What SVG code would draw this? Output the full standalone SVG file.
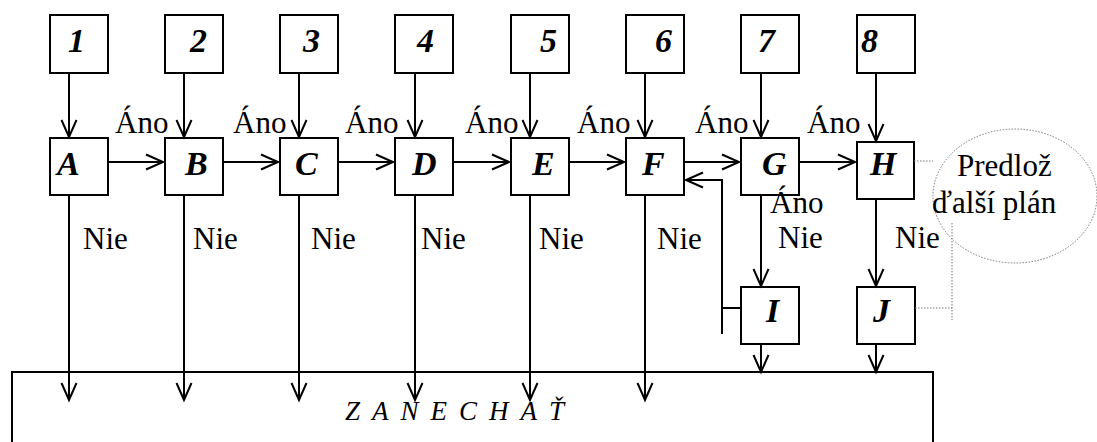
<svg xmlns="http://www.w3.org/2000/svg" width="1097" height="442" viewBox="0 0 1097 442">
<style>
.box{fill:#fff;stroke:#000;stroke-width:2}
.ln{fill:none;stroke:#000;stroke-width:2}
.dot{fill:none;stroke:#777;stroke-width:1;stroke-dasharray:1.5 1.5}
.bi{font-family:"Liberation Serif",serif;font-weight:bold;font-style:italic;font-size:34px;fill:#000}
.t{font-family:"Liberation Serif",serif;font-size:31px;fill:#000}
.z{font-family:"Liberation Serif",serif;font-style:italic;font-size:27px;letter-spacing:12px;fill:#000}
</style>
<defs>
<marker id="ah" markerUnits="userSpaceOnUse" markerWidth="24" markerHeight="24" refX="0" refY="0" viewBox="-20 -12 24 24" orient="auto" overflow="visible">
<path d="M-17,-7.5 L0,0 L-17,7.5" fill="none" stroke="#000" stroke-width="2"/>
</marker>
</defs>
<g id="zanechat">
<rect x="12" y="372" width="921" height="80" class="box"/>
<text x="345" y="420" class="z">ZANECHAŤ</text>
</g>
<g id="n1"><rect x="50" y="15" width="58" height="58" class="box"/><text x="68" y="52" class="bi">1</text></g>
<g id="n2"><rect x="165" y="15" width="58" height="58" class="box"/><text x="190" y="52" class="bi">2</text></g>
<g id="n3"><rect x="280" y="15" width="58" height="58" class="box"/><text x="303" y="52" class="bi">3</text></g>
<g id="n4"><rect x="395" y="15" width="58" height="58" class="box"/><text x="417" y="52" class="bi">4</text></g>
<g id="n5"><rect x="511" y="15" width="58" height="58" class="box"/><text x="540" y="52" class="bi">5</text></g>
<g id="n6"><rect x="626" y="15" width="58" height="58" class="box"/><text x="655" y="52" class="bi">6</text></g>
<g id="n7"><rect x="741" y="15" width="58" height="58" class="box"/><text x="758" y="52" class="bi">7</text></g>
<g id="n8"><rect x="857" y="15" width="58" height="58" class="box"/><text x="861" y="52" class="bi">8</text></g>
<g id="nA"><rect x="50" y="138" width="58" height="57" class="box"/><text x="57" y="175" class="bi">A</text></g>
<g id="nB"><rect x="165" y="138" width="58" height="57" class="box"/><text x="185" y="175" class="bi">B</text></g>
<g id="nC"><rect x="280" y="138" width="58" height="57" class="box"/><text x="295" y="175" class="bi">C</text></g>
<g id="nD"><rect x="395" y="138" width="58" height="57" class="box"/><text x="412" y="175" class="bi">D</text></g>
<g id="nE"><rect x="511" y="138" width="58" height="57" class="box"/><text x="532" y="175" class="bi">E</text></g>
<g id="nF"><rect x="626" y="138" width="58" height="57" class="box"/><text x="642" y="175" class="bi">F</text></g>
<g id="nG"><rect x="741" y="138" width="58" height="57" class="box"/><text x="762" y="175" class="bi">G</text></g>
<g id="nH"><rect x="857" y="142" width="57" height="57" class="box"/><text x="870" y="175" class="bi">H</text></g>
<g id="nI"><rect x="741" y="287" width="58" height="57" class="box"/><text x="766" y="322" class="bi">I</text></g>
<g id="nJ"><rect x="857" y="287" width="58" height="57" class="box"/><text x="873" y="322" class="bi">J</text></g>
<g id="note">
<ellipse cx="1015" cy="196" rx="82" ry="67" class="dot"/>
<text x="957" y="176" class="t">Predlož</text>
<text x="932" y="213" class="t">ďalší plán</text>
</g>
<g id="connectors">
<path class="ln" marker-end="url(#ah)" d="M69,73 V137"/>
<path class="ln" marker-end="url(#ah)" d="M184,73 V137"/>
<path class="ln" marker-end="url(#ah)" d="M299,73 V137"/>
<path class="ln" marker-end="url(#ah)" d="M415,73 V137"/>
<path class="ln" marker-end="url(#ah)" d="M530,73 V137"/>
<path class="ln" marker-end="url(#ah)" d="M645,73 V137"/>
<path class="ln" marker-end="url(#ah)" d="M761,73 V137"/>
<path class="ln" marker-end="url(#ah)" d="M876,73 V141"/>
<path class="ln" marker-end="url(#ah)" d="M108,162 H163"/>
<path class="ln" marker-end="url(#ah)" d="M223,162 H278"/>
<path class="ln" marker-end="url(#ah)" d="M338,162 H393"/>
<path class="ln" marker-end="url(#ah)" d="M453,162 H509"/>
<path class="ln" marker-end="url(#ah)" d="M569,162 H624"/>
<path class="ln" marker-end="url(#ah)" d="M684,162 H739"/>
<path class="ln" marker-end="url(#ah)" d="M799,162 H855"/>
<path class="ln" marker-end="url(#ah)" d="M69,195 V400"/>
<path class="ln" marker-end="url(#ah)" d="M184,195 V400"/>
<path class="ln" marker-end="url(#ah)" d="M299,195 V400"/>
<path class="ln" marker-end="url(#ah)" d="M415,195 V400"/>
<path class="ln" marker-end="url(#ah)" d="M530,195 V400"/>
<path class="ln" marker-end="url(#ah)" d="M645,195 V400"/>
<path class="ln" marker-end="url(#ah)" d="M761,195 V286"/>
<path class="ln" marker-end="url(#ah)" d="M876,199 V286"/>
<path class="ln" marker-end="url(#ah)" d="M761,344 V372"/>
<path class="ln" marker-end="url(#ah)" d="M876,344 V372"/>
<path class="ln" d="M741,308 H722"/>
<path class="ln" marker-end="url(#ah)" d="M722,334 V180 H686"/>
<path class="dot" d="M914,161 H933"/>
<path class="dot" d="M915,308 H952"/>
<path class="dot" d="M952,223 V320"/>
<text x="115" y="133" class="t">Áno</text>
<text x="233" y="133" class="t">Áno</text>
<text x="345" y="133" class="t">Áno</text>
<text x="465" y="133" class="t">Áno</text>
<text x="577" y="133" class="t">Áno</text>
<text x="695" y="133" class="t">Áno</text>
<text x="807" y="133" class="t">Áno</text>
<text x="770" y="213" class="t">Áno</text>
<text x="83" y="249" class="t">Nie</text>
<text x="193" y="249" class="t">Nie</text>
<text x="311" y="249" class="t">Nie</text>
<text x="421" y="249" class="t">Nie</text>
<text x="539" y="249" class="t">Nie</text>
<text x="657" y="249" class="t">Nie</text>
<text x="778" y="248" class="t">Nie</text>
<text x="895" y="248" class="t">Nie</text>
</g>
</svg>
